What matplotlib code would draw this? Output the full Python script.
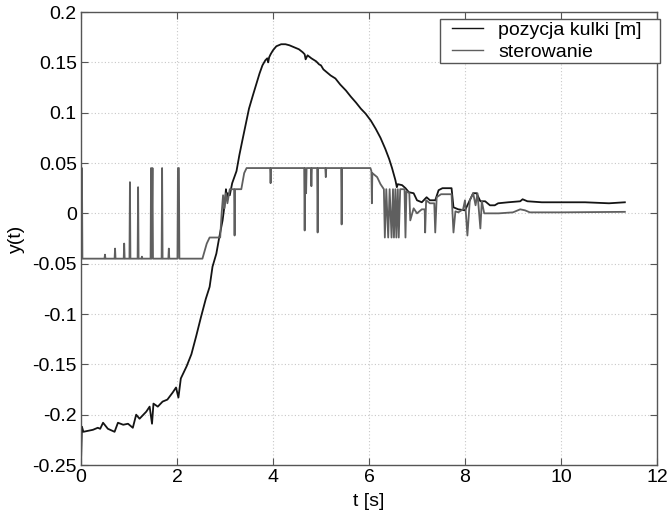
import matplotlib
matplotlib.use("Agg")
import matplotlib.pyplot as plt
from matplotlib.ticker import FuncFormatter
from matplotlib.lines import Line2D
from matplotlib.legend_handler import HandlerLine2D

plt.rcParams['font.family'] = ['Liberation Sans', 'DejaVu Sans']

# ball position [m]
pos_t = [0, 0.02, 0.05, 0.15, 0.25, 0.35, 0.4, 0.46, 0.56, 0.7,
         0.77, 0.88, 0.98, 1.08, 1.15, 1.22, 1.3, 1.36, 1.43, 1.48,
         1.51, 1.6, 1.7, 1.8, 1.91, 1.98, 2.03, 2.08, 2.14, 2.2,
         2.3, 2.4, 2.5, 2.6, 2.68, 2.74, 2.82, 2.88, 2.95, 2.98,
         3.0, 3.02, 3.04, 3.06, 3.1, 3.15, 3.24, 3.3, 3.36, 3.43,
         3.5, 3.58, 3.65, 3.72, 3.78, 3.84, 3.88, 3.9, 3.92, 3.95,
         4.0, 4.07, 4.17, 4.26, 4.34, 4.44, 4.54, 4.62, 4.66, 4.68,
         4.72, 4.8, 4.9, 4.96, 5.0, 5.05, 5.1, 5.2, 5.3, 5.4,
         5.52, 5.62, 5.73, 5.83, 5.93, 6.04, 6.14, 6.24, 6.34, 6.42,
         6.48, 6.55, 6.58, 6.6, 6.69, 6.76, 6.83, 6.93, 7.0, 7.1,
         7.2, 7.27, 7.38, 7.45, 7.53, 7.72, 7.76, 7.86, 8.0, 8.07,
         8.17, 8.24, 8.32, 8.42, 8.52, 8.62, 8.69, 8.9, 9.15, 9.2,
         9.3, 9.6, 10.0, 10.5, 11.0, 11.33]
pos_y = [-0.248, -0.212, -0.217, -0.216, -0.215, -0.213, -0.214, -0.208, -0.214, -0.217,
         -0.208, -0.210, -0.209, -0.213, -0.200, -0.204, -0.200, -0.197, -0.192, -0.209,
         -0.189, -0.192, -0.187, -0.185, -0.178, -0.173, -0.183, -0.164, -0.158, -0.152,
         -0.140, -0.122, -0.103, -0.085, -0.073, -0.053, -0.040, -0.024, -0.007, 0.004,
         0.012, 0.024, 0.014, 0.020, 0.018, 0.030, 0.042, 0.058, 0.072, 0.088,
         0.104, 0.117, 0.128, 0.139, 0.147, 0.152, 0.154, 0.150, 0.155, 0.158,
         0.162, 0.166, 0.168, 0.168, 0.167, 0.165, 0.163, 0.160, 0.158, 0.153,
         0.157, 0.154, 0.151, 0.148, 0.147, 0.143, 0.141, 0.137, 0.134, 0.128,
         0.122, 0.116, 0.110, 0.104, 0.099, 0.092, 0.084, 0.075, 0.064, 0.054,
         0.045, 0.033, 0.026, 0.029, 0.028, 0.025, 0.021, 0.020, 0.013, 0.011,
         0.016, 0.013, 0.013, 0.023, 0.025, 0.025, 0.006, 0.004, 0.003, 0.010,
         0.020, 0.020, 0.012, 0.012, 0.008, 0.008, 0.010, 0.011, 0.012, 0.014,
         0.012, 0.011, 0.011, 0.011, 0.010, 0.011]

# control signal
ctrl_t = [0, 0.01, 0.02, 0.03,
          0.49, 0.5, 0.51,
          0.70, 0.71, 0.72,
          0.89, 0.9, 0.91,
          1.01, 1.02, 1.03,
          1.18, 1.19, 1.2,
          1.26, 1.27, 1.28,
          1.45, 1.46, 1.47, 1.49, 1.5,
          1.68, 1.69, 1.70,
          1.82, 1.83, 1.84,
          2.01, 2.02, 2.04, 2.05,
          2.53, 2.62, 2.68, 2.9,
          2.93, 2.96, 2.99, 3.02, 3.05, 3.1,
          3.19, 3.2, 3.21, 3.34, 3.4, 3.45,
          3.94, 3.95, 3.96,
          4.65, 4.66, 4.67, 4.69, 4.7,
          4.79, 4.8, 4.81,
          4.92, 4.93, 4.94,
          5.09, 5.1, 5.11,
          5.42, 5.43, 5.44,
          6.03, 6.05, 6.06, 6.07, 6.17, 6.24, 6.31,
          6.33, 6.36, 6.40, 6.43, 6.47, 6.5, 6.52, 6.55, 6.57, 6.6,
          6.62, 6.65, 6.74, 6.76, 6.78, 6.84, 6.86, 6.93, 7.0, 7.1,
          7.16, 7.17, 7.19, 7.27, 7.36, 7.38, 7.41, 7.5, 7.72, 7.76,
          7.8, 7.86, 7.96, 8.0, 8.05, 8.1, 8.17, 8.22, 8.26, 8.32,
          8.35, 8.4, 8.7, 9.0, 9.15, 9.25, 9.35, 10.0, 11.33]
ctrl_y = [0.045, -0.045, 0.045, -0.045,
          -0.045, -0.041, -0.045,
          -0.045, -0.035, -0.045,
          -0.045, -0.030, -0.045,
          -0.045, 0.031, -0.045,
          -0.045, 0.026, -0.045,
          -0.045, -0.043, -0.045,
          -0.045, 0.045, -0.045, 0.045, -0.045,
          -0.045, 0.045, -0.045,
          -0.045, -0.035, -0.045,
          -0.045, 0.045, 0.045, -0.045,
          -0.045, -0.030, -0.024, -0.024,
          0.0, 0.018, 0.005, 0.020, 0.010, 0.024,
          0.024, -0.022, 0.024, 0.024, 0.040, 0.045,
          0.045, 0.030, 0.045,
          0.045, -0.017, 0.045, 0.020, 0.045,
          0.045, 0.027, 0.045,
          0.045, -0.019, 0.045,
          0.045, 0.036, 0.045,
          0.045, -0.011, 0.045,
          0.045, 0.042, 0.010, 0.040, 0.036, 0.029, 0.024,
          -0.024, 0.024, -0.024, 0.024, -0.024, 0.024, -0.024, 0.024, -0.024, 0.024,
          -0.024, 0.024, 0.024, -0.024, 0.022, 0.020, -0.007, 0.005, 0.0, 0.004,
          0.004, -0.019, 0.013, 0.010, 0.010, -0.019, 0.016, 0.019, 0.019, -0.019,
          0.002, 0.001, 0.004, 0.013, -0.022, 0.013, 0.020, 0.008, 0.020, -0.015,
          0.012, 0.0, 0.0, 0.001, 0.004, 0.003, 0.001, 0.001, 0.0015]

x_ticks = [0, 2, 4, 6, 8, 10, 12]
y_ticks = [-0.25, -0.2, -0.15, -0.1, -0.05, 0, 0.05, 0.1, 0.15, 0.2]
labels = ['pozycja kulki [m]', 'sterowanie']

fig = plt.figure(figsize=(6.72, 5.16), dpi=100)
ax = fig.add_axes([0.1205, 0.0988, 0.8572, 0.8779])

ax.plot(pos_t, pos_y, color='#141414', lw=1.3, label=labels[0])
ax.plot(ctrl_t, ctrl_y, color='#5f5f5f', lw=1.3, label=labels[1])

ax.set_xlim(0, 12)
ax.set_ylim(-0.25, 0.2)
ax.set_xticks(x_ticks)
ax.set_yticks(y_ticks)
ax.yaxis.set_major_formatter(FuncFormatter(lambda v, p: '%g' % round(v, 4)))
ax.xaxis.set_major_formatter(FuncFormatter(lambda v, p: '%g' % v))
ax.tick_params(direction='in', top=True, right=True, labelsize=14, length=5,
               color='#555555', pad=3)
for s in ax.spines.values():
    s.set_color('#555555')
    s.set_linewidth(1.0)
ax.grid(True, linestyle=(0, (1, 2)), color='#c8c8c8', linewidth=0.8)

ax.set_xlabel('t [s]', fontsize=14, labelpad=5)
ax.set_ylabel('y(t)', fontsize=14, labelpad=5)

leg = ax.legend(loc='upper left', bbox_to_anchor=(0.6233, 0.5, 0.3819, 0.4845),
                mode='expand', fontsize=14, numpoints=2,
                handler_map={Line2D: HandlerLine2D(marker_pad=0.5)},
                frameon=True, fancybox=False,
                borderpad=0.11, labelspacing=0.23, handlelength=2.6,
                handletextpad=0.27, borderaxespad=0.0)
leg.get_frame().set_edgecolor('#555555')
leg.get_frame().set_linewidth(1.0)
leg.get_frame().set_alpha(1.0)
for h in leg.get_lines():
    h.set_linewidth(1.0)

fig.savefig('out.png', dpi=100)
